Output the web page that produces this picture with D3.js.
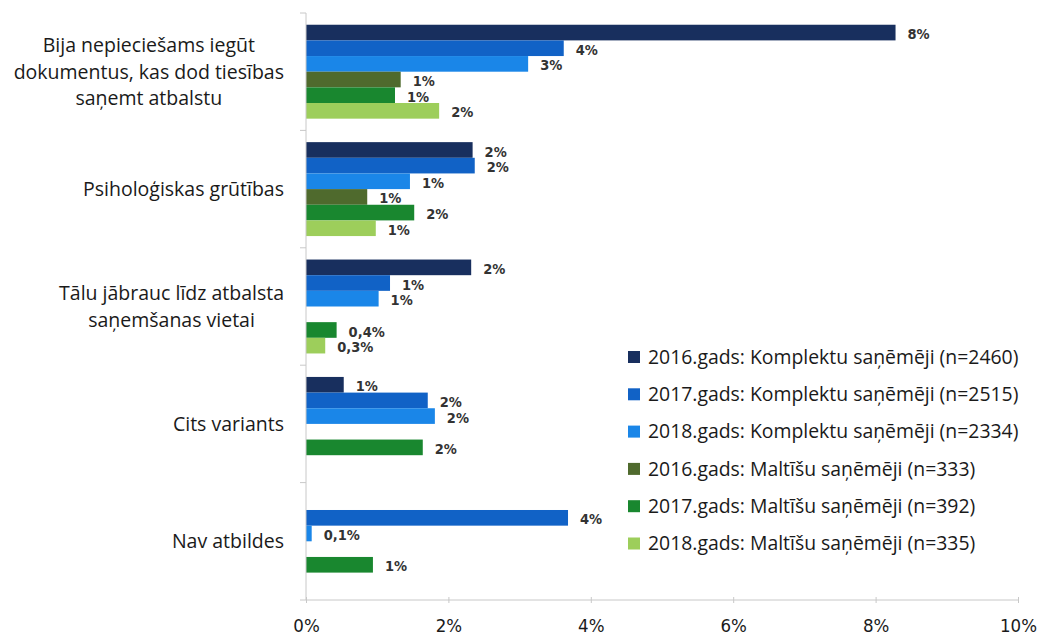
<!DOCTYPE html>
<html>
<head>
<meta charset="utf-8">
<script src="https://cdn.jsdelivr.net/npm/d3@7/dist/d3.min.js"></script>
<style>
  html, body { margin: 0; padding: 0; background: #fff; }
  svg { display: block; }
</style>
</head>
<body>
<svg id="chart" width="1040" height="638"></svg>
<script>
// ---- data ----
const categories = [
  ["Bija nepieciešams iegūt", "dokumentus, kas dod tiesības", "saņemt atbalstu"],
  ["Psiholoģiskas grūtības"],
  ["Tālu jābrauc līdz atbalsta", "saņemšanas vietai"],
  ["Cits variants"],
  ["Nav atbildes"]
];
const seriesNames = [
  "2016.gads: Komplektu saņēmēji (n=2460)",
  "2017.gads: Komplektu saņēmēji (n=2515)",
  "2018.gads: Komplektu saņēmēji (n=2334)",
  "2016.gads: Maltīšu saņēmēji (n=333)",
  "2017.gads: Maltīšu saņēmēji (n=392)",
  "2018.gads: Maltīšu saņēmēji (n=335)"
];
const seriesColors = ["#182f5e", "#1162c6", "#1a86e8", "#4f6a2d", "#19872f", "#9dce5b"];
// values in %, one array per series (null = no bar)
const k2016 = [8.28, 2.34, 2.32, 0.53, null];
const k2017 = [3.62, 2.37, 1.18, 1.71, 3.68];
const k2018 = [3.12, 1.46, 1.02, 1.81, 0.08];
const m2016 = [1.33, 0.86, null, null, null];
const m2017 = [1.25, 1.52, 0.43, 1.64, 0.94];
const m2018 = [1.87, 0.98, 0.27, null, null];
const seriesValues = [k2016, k2017, k2018, m2016, m2017, m2018];
// value labels as printed
const k2016Labels = ["8%", "2%", "2%", "1%", null];
const k2017Labels = ["4%", "2%", "1%", "2%", "4%"];
const k2018Labels = ["3%", "1%", "1%", "2%", "0,1%"];
const m2016Labels = ["1%", "1%", null, null, null];
const m2017Labels = ["1%", "2%", "0,4%", "2%", "1%"];
const m2018Labels = ["2%", "1%", "0,3%", null, null];
const seriesLabels = [k2016Labels, k2017Labels, k2018Labels, m2016Labels, m2017Labels, m2018Labels];
const xTicks = [0, 2, 4, 6, 8, 10];
const xTickLabels = ["0%", "2%", "4%", "6%", "8%", "10%"];

// ---- layout ----
const svg = d3.select("#chart");
const pL = 306, pR = 1018, pT = 13, pB = 600;

const x = d3.scaleLinear().domain([0, 10]).range([pL, pR]);
const y = d3.scaleBand().domain(d3.range(categories.length)).range([pT, pB])
  .paddingInner(0.2).paddingOuter(0.1);
const ySub = d3.scaleBand().domain(d3.range(seriesNames.length)).range([0, y.bandwidth()]);

// bars
const groups = svg.append("g").selectAll("g")
  .data(categories.map((c, i) => i))
  .join("g")
  .attr("transform", i => `translate(0,${y(i)})`);

groups.each(function(ci) {
  const g = d3.select(this);
  seriesValues.forEach((vals, si) => {
    const v = vals[ci];
    if (v == null) return;
    g.append("rect")
      .attr("x", x(0))
      .attr("y", ySub(si))
      .attr("width", x(v) - x(0))
      .attr("height", ySub.bandwidth())
      .attr("fill", seriesColors[si]);
  });
  seriesValues.forEach((vals, si) => {
    const v = vals[ci];
    const lab = seriesLabels[si][ci];
    if (v == null || lab == null) return;
    g.append("text")
      .attr("x", x(v) + 12)
      .attr("y", ySub(si) + ySub.bandwidth() / 2 + 1.5)
      .attr("dy", "0.35em")
      .attr("font-family", "'DejaVu Sans Condensed', 'DejaVu Sans', sans-serif")
      .attr("font-weight", "bold")
      .attr("font-size", 14.5)
      .attr("fill", "#333")
      .text(lab);
  });
});

// x axis
const xAxis = d3.axisBottom(x).tickValues(xTicks)
  .tickFormat((d, i) => xTickLabels[i]).tickSize(6).tickSizeOuter(0);
const gx = svg.append("g").attr("transform", `translate(0,${pB - 3})`).call(xAxis);
gx.select(".domain").attr("stroke", "#c8c8c8").attr("d", `M${pL},3H${pR}`);
gx.selectAll(".tick line").attr("stroke", "#c8c8c8");
gx.selectAll(".tick text")
  .attr("y", 22)
  .attr("font-family", "'DejaVu Sans Condensed', 'DejaVu Sans', sans-serif")
  .attr("font-size", 18.5)
  .attr("fill", "#1a1a1a");

// y axis (line + boundary ticks)
svg.append("line")
  .attr("x1", pL).attr("x2", pL).attr("y1", pT).attr("y2", pB)
  .attr("stroke", "#c8c8c8");
const boundaries = d3.range(categories.length + 1).map(i => pT + i * (pB - pT) / categories.length);
svg.append("g").selectAll("line").data(boundaries).join("line")
  .attr("x1", pL - 6).attr("x2", pL).attr("y1", d => d).attr("y2", d => d)
  .attr("stroke", "#c8c8c8");

// category labels: block right aligned, lines centered in block
const labelRight = 284;
const lineH = 26.5;
categories.forEach((lines, ci) => {
  const cy = y(ci) + y.bandwidth() / 2;
  const g = svg.append("g");
  const texts = lines.map((ln, li) => g.append("text")
    .attr("font-family", "'Open Sans', 'Noto Sans', sans-serif")
    .attr("font-size", 19.5)
    .attr("fill", "#1a1a1a")
    .attr("text-anchor", "middle")
    .attr("y", cy + (li - (lines.length - 1) / 2) * lineH)
    .attr("dy", "0.35em")
    .text(ln));
  const w = d3.max(texts, t => t.node().getComputedTextLength());
  texts.forEach(t => t.attr("x", labelRight - w / 2));
});

// legend
const legend = svg.append("g");
seriesNames.forEach((name, i) => {
  const ly = 357 + i * 37.3;
  legend.append("rect")
    .attr("x", 628).attr("y", ly - 6).attr("width", 12).attr("height", 12)
    .attr("fill", seriesColors[i]);
  legend.append("text")
    .attr("x", 648).attr("y", ly).attr("dy", "0.35em")
    .attr("font-family", "'Open Sans', 'Noto Sans', sans-serif")
    .attr("font-size", 19.4)
    .attr("fill", "#1a1a1a")
    .text(name);
});
</script>
</body>
</html>
